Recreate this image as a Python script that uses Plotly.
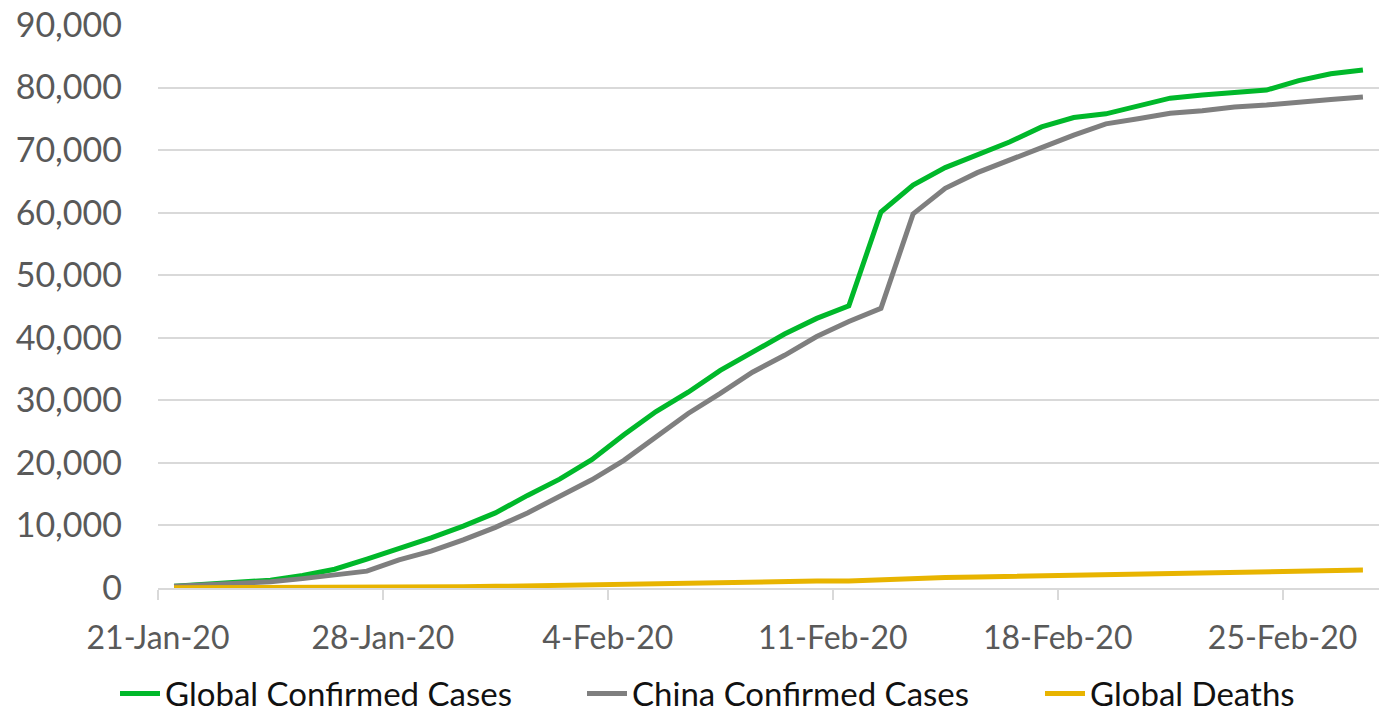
import pandas as pd
import plotly.graph_objects as go

# Daily dates, 21 Jan 2020 to 27 Feb 2020
dates = pd.date_range("2020-01-21", "2020-02-27", freq="D")

global_confirmed = [
    280, 550, 850, 1250, 2000, 3000, 4600, 6200, 8000, 9900,
    12000, 14800, 17400, 20500, 24500, 28200, 31300, 34800, 37600, 40600,
    43100, 45100, 60100, 64400, 67200, 69300, 71300, 73700, 75200, 75800,
    77100, 78300, 78800, 79200, 79600, 81100, 82200, 82800,
]
china_confirmed = [
    280, 500, 650, 1000, 1500, 2100, 2700, 4500, 5900, 7700,
    9700, 12000, 14700, 17300, 20400, 24200, 27900, 31100, 34500, 37200,
    40200, 42600, 44700, 59800, 63900, 66400, 68300, 70400, 72400, 74200,
    75000, 75900, 76300, 76900, 77200, 77700, 78100, 78500,
]
global_deaths = [
    20, 20, 30, 40, 60, 80, 130, 130, 170, 210,
    260, 360, 430, 490, 560, 630, 720, 810, 910, 1010,
    1110, 1120, 1370, 1520, 1670, 1770, 1870, 2010, 2120, 2250,
    2250, 2460, 2470, 2630, 2710, 2770, 2810, 2870,
]

series_names = ["Global Confirmed Cases", "China Confirmed Cases", "Global Deaths"]
series_values = [global_confirmed, china_confirmed, global_deaths]
series_colors = ["#00B82A", "#7F7F7F", "#E8B400"]
# one legend box per series so each entry sits at its own spot along the bottom
legend_ids = ["legend", "legend2", "legend3"]
legend_x = [115 / 1392, 582 / 1392, 1040 / 1392]

# Weekly tick labels, drawn at the start of each day's slot
tick_dates = pd.date_range("2020-01-21", "2020-02-25", freq="7D")
tick_labels = [d.strftime("%-d-%b-%y") for d in tick_dates]
tick_positions = [d - pd.Timedelta(hours=12) for d in tick_dates]

y_ticks = list(range(0, 90001, 10000))

FONT = "Lato"

fig = go.Figure()
for name, vals, color, lg in zip(series_names, series_values, series_colors, legend_ids):
    fig.add_trace(go.Scatter(
        x=dates, y=vals, name=name, mode="lines",
        line=dict(color=color, width=5), legend=lg,
    ))

legend_style = dict(
    orientation="h", xanchor="left", xref="container",
    y=0.03, yanchor="middle", yref="container",
    font=dict(family=FONT, size=33, color="#111111"),
    itemwidth=40, bgcolor="rgba(0,0,0,0)",
)
legend_layout = {lg: dict(legend_style, x=lx) for lg, lx in zip(legend_ids, legend_x)}

fig.update_layout(
    width=1392, height=715,
    margin=dict(l=158, r=13, t=25, b=127, autoexpand=False),
    paper_bgcolor="white", plot_bgcolor="white",
    font=dict(family=FONT, size=34, color="#595959"),
    showlegend=True,
    **legend_layout,
    xaxis=dict(
        type="date",
        range=[dates[0] - pd.Timedelta(hours=12), dates[-1] + pd.Timedelta(hours=12)],
        tickmode="array", tickvals=tick_positions, ticktext=tick_labels,
        showgrid=False, zeroline=False,
        showline=True, linecolor="#D9D9D9", linewidth=2,
        ticks="outside", ticklen=10, tickwidth=2, tickcolor="#D9D9D9",
        tickfont=dict(family=FONT, size=32, color="#595959"),
        ticklabelstandoff=11,
    ),
    yaxis=dict(
        range=[0, 90000],
        tickmode="array", tickvals=y_ticks,
        tickformat=",d",
        showgrid=True, gridcolor="#D9D9D9", gridwidth=2,
        zeroline=False, showline=False, ticks="",
        tickfont=dict(family=FONT, size=34, color="#595959"),
        ticklabelstandoff=35,
    ),
)

fig.write_html("out.html")
